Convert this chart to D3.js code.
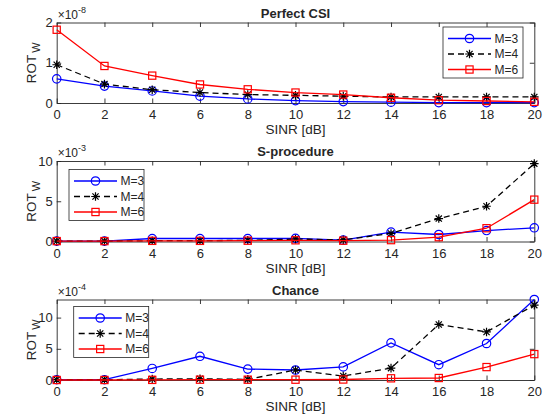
<!DOCTYPE html>
<html lang="en">
<head>
    <meta charset="UTF-8">
    <title>ROT_W vs SINR</title>
    <style>
        *{
            margin: 0;
            padding: 0;
        }
        body{
            background: #fff;
        }
        svg text{
            font-family: "Liberation Sans", Arial, Helvetica, sans-serif;
            fill: #262626;
        }
    </style>
</head>
<body>
<div id="chart"></div>
</body>
</html>
<script src="https://cdn.jsdelivr.net/npm/d3@7"></script>
<script>
    /* x axis: SINR [dB] */
    var sinr = [0, 2, 4, 6, 8, 10, 12, 14, 16, 18, 20];
    var seriesNames = ["M=3", "M=4", "M=6"];

    /* Perfect CSI, x 1e-8 */
    var csiM3 = [0.60, 0.42, 0.30, 0.17, 0.10, 0.06, 0.035, 0.02, 0.01, 0.01, 0.01];
    var csiM4 = [0.95, 0.47, 0.33, 0.26, 0.21, 0.19, 0.17, 0.15, 0.15, 0.15, 0.15];
    var csiM6 = [1.82, 0.92, 0.68, 0.46, 0.34, 0.26, 0.21, 0.13, 0.07, 0.05, 0.03];

    /* S-procedure, x 1e-3 */
    var sprocM3 = [0.05, 0.05, 0.37, 0.37, 0.37, 0.40, 0.17, 1.16, 0.87, 1.36, 1.70];
    var sprocM4 = [0.05, 0.05, 0.10, 0.10, 0.15, 0.30, 0.20, 1.00, 2.85, 4.38, 9.67];
    var sprocM6 = [0.05, 0.05, 0.08, 0.08, 0.10, 0.15, 0.10, 0.17, 0.54, 1.65, 5.20];

    /* Chance, x 1e-4 */
    var chanceM3 = [0.05, 0.05, 1.85, 3.80, 1.75, 1.60, 2.10, 5.95, 2.45, 5.85, 12.9];
    var chanceM4 = [0.05, 0.05, 0.15, 0.20, 0.10, 1.60, 0.64, 1.90, 8.90, 7.70, 12.0];
    var chanceM6 = [0.00, 0.00, 0.02, 0.05, 0.05, 0.05, 0.08, 0.27, 0.32, 2.07, 4.15];

    var titles = ["Perfect CSI", "S-procedure", "Chance"];
    var exponents = ["-8", "-3", "-4"];
    var yMax = [2, 10, 12.9];
    var yTicks = [[0, 1, 2], [0, 5, 10], [0, 5, 10]];
    var xTicks = [0, 2, 4, 6, 8, 10, 12, 14, 16, 18, 20];

    var W = 544, H = 420;
    var left = 56.7, right = 534.3, ph = 80.5;
    var tops = [22.5, 161, 299.5];
    /* legend boxes: [x, y] top-left */
    var legendPos = [[443, 27], [69, 169.5], [73.7, 306.5]];

    var colors = ["#0000ff", "#000000", "#ff0000"];
    var markers = ["circle", "star", "square"];
    var dashes = [null, "6,4", null];

    var svg = d3.select("#chart").append("svg")
        .attr("width", W)
        .attr("height", H);

    var panels = [
        [csiM3, csiM4, csiM6],
        [sprocM3, sprocM4, sprocM6],
        [chanceM3, chanceM4, chanceM6]
    ];

    var xScale = d3.scaleLinear().domain([0, 20]).range([left, right]);

    function drawMarker(g, type, color, x, y) {
        if (type === "circle") {
            g.append("circle")
                .attr("cx", x).attr("cy", y).attr("r", 4.2)
                .attr("fill", "none").attr("stroke", color).attr("stroke-width", 1.2);
        } else if (type === "square") {
            g.append("rect")
                .attr("x", x - 3.6).attr("y", y - 3.6)
                .attr("width", 7.2).attr("height", 7.2)
                .attr("fill", "none").attr("stroke", color).attr("stroke-width", 1.2);
        } else {
            var s = 4.3, d = 3.1;
            g.append("path")
                .attr("d", "M" + (x - s) + "," + y + "L" + (x + s) + "," + y +
                    "M" + x + "," + (y - s) + "L" + x + "," + (y + s) +
                    "M" + (x - d) + "," + (y - d) + "L" + (x + d) + "," + (y + d) +
                    "M" + (x - d) + "," + (y + d) + "L" + (x + d) + "," + (y - d))
                .attr("fill", "none").attr("stroke", color).attr("stroke-width", 1.2);
        }
    }

    panels.forEach(function (data, p) {
        var top = tops[p], bottom = top + ph;
        var yScale = d3.scaleLinear().domain([0, yMax[p]]).range([bottom, top]);
        var g = svg.append("g").attr("class", "panel" + p);

        /* white axes background */
        g.append("rect")
            .attr("x", left).attr("y", top)
            .attr("width", right - left).attr("height", ph)
            .attr("fill", "#fff");

        /* axes with inward ticks on all four sides */
        var ax = g.append("g").attr("class", "axes");
        ax.append("g").attr("transform", "translate(0," + bottom + ")")
            .call(d3.axisBottom(xScale).tickValues(xTicks).tickSizeInner(-4.5).tickSizeOuter(0).tickPadding(7));
        ax.append("g").attr("transform", "translate(0," + top + ")")
            .call(d3.axisTop(xScale).tickValues(xTicks).tickSizeInner(-4.5).tickSizeOuter(0).tickFormat(""));
        ax.append("g").attr("transform", "translate(" + left + ",0)")
            .call(d3.axisLeft(yScale).tickValues(yTicks[p]).tickFormat(d3.format("d"))
                .tickSizeInner(-4.5).tickSizeOuter(0).tickPadding(4));
        ax.append("g").attr("transform", "translate(" + right + ",0)")
            .call(d3.axisRight(yScale).tickValues(yTicks[p]).tickSizeInner(-4.5).tickSizeOuter(0).tickFormat(""));
        ax.selectAll(".domain").attr("stroke", "#262626").attr("stroke-width", 0.9);
        ax.selectAll(".tick line").attr("stroke", "#262626").attr("stroke-width", 0.9);
        ax.selectAll(".tick text")
            .style("font-size", "13px")
            .style("font-family", "'Liberation Sans', Arial, sans-serif")
            .attr("fill", "#262626");

        /* series */
        data.forEach(function (vals, s) {
            var line = d3.line()
                .x(function (d, i) { return xScale(sinr[i]); })
                .y(function (d) { return yScale(d); });
            g.append("path")
                .datum(vals)
                .attr("d", line)
                .attr("fill", "none")
                .attr("stroke", colors[s])
                .attr("stroke-width", 1.3)
                .attr("stroke-dasharray", dashes[s]);
            var mg = g.append("g");
            vals.forEach(function (v, i) {
                drawMarker(mg, markers[s], colors[s], xScale(sinr[i]), yScale(v));
            });
        });

        /* title */
        g.append("text")
            .attr("x", (left + right) / 2)
            .attr("y", top - 5)
            .attr("text-anchor", "middle")
            .style("font-size", "13px")
            .style("font-weight", "bold")
            .attr("fill", "#000")
            .text(titles[p]);

        /* x label */
        g.append("text")
            .attr("x", (left + right) / 2)
            .attr("y", bottom + 31)
            .attr("text-anchor", "middle")
            .style("font-size", "13.5px")
            .text("SINR [dB]");

        /* y label ROT_W */
        var yl = g.append("text")
            .attr("transform", "translate(36," + (top + ph / 2) + ") rotate(-90)")
            .attr("text-anchor", "middle")
            .style("font-size", "13.5px");
        yl.append("tspan").text("ROT");
        yl.append("tspan").attr("dx", 2).attr("dy", 4).style("font-size", "11px").text("W");

        /* exponent x10^n */
        var ex = g.append("text")
            .attr("x", left + 1)
            .attr("y", top - 4)
            .style("font-size", "12px");
        ex.append("tspan").text("\u00d710");
        ex.append("tspan").attr("dy", -6).style("font-size", "9px").text(exponents[p]);

        /* legend */
        var lx = legendPos[p][0], ly = legendPos[p][1];
        var lg = g.append("g").attr("class", "legend");
        lg.append("rect")
            .attr("x", lx).attr("y", ly)
            .attr("width", p === 0 ? 80 : 75).attr("height", 51)
            .attr("fill", "#fff")
            .attr("stroke", "#262626")
            .attr("stroke-width", 0.8);
        seriesNames.forEach(function (name, s) {
            var yy = ly + 11.5 + s * 15.5;
            lg.append("line")
                .attr("x1", lx + 5).attr("x2", lx + 48)
                .attr("y1", yy).attr("y2", yy)
                .attr("stroke", colors[s])
                .attr("stroke-width", 1.3)
                .attr("stroke-dasharray", dashes[s]);
            drawMarker(lg, markers[s], colors[s], lx + 26.5, yy);
            lg.append("text")
                .attr("x", lx + 51.5)
                .attr("y", yy + 4.3)
                .style("font-size", "12px")
                .text(name);
        });
    });
</script>
